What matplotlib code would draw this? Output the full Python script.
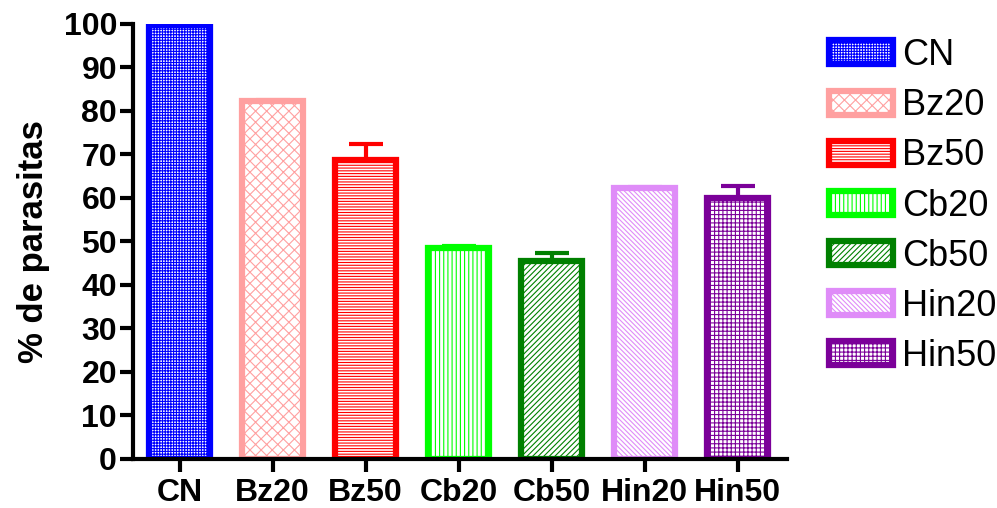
import matplotlib
matplotlib.use("Agg")
import matplotlib.pyplot as plt
import numpy as np

plt.rcParams['font.family'] = ['Liberation Sans', 'DejaVu Sans']
plt.rcParams['hatch.linewidth'] = 0.8

grupos = ['CN', 'Bz20', 'Bz50', 'Cb20', 'Cb50', 'Hin20', 'Hin50']
media = [99.8, 82.3, 68.7, 48.5, 45.5, 62.3, 60.0]
erro = [0.2, 0.3, 3.7, 0.4, 1.9, 0.3, 2.8]   # so o lado de cima
cores = ['#0000FF', '#FFA0A0', '#FF0000', '#00FF00', '#008000', '#DF8CF8', '#7B0099']
hachuras = ['++++++', 'xxx', '------', '||||', '//////', '\\\\\\\\\\\\\\', '++++']

fig = plt.figure(figsize=(9.97, 5.08), dpi=100)
ax = fig.add_axes([0.1334, 0.0965, 0.656, 0.8563])

x = np.arange(len(grupos))
for i in range(len(grupos)):
    ax.errorbar(x[i], media[i], yerr=[[0], [erro[i]]], fmt='none', ecolor=cores[i],
                elinewidth=3, capsize=12, capthick=3, zorder=1)
    ax.bar(x[i], media[i], width=0.65, color='white', edgecolor=cores[i],
           linewidth=4.5, hatch=hachuras[i], label=grupos[i], zorder=2)

ax.set_xlim(-0.5, 6.53)
ax.set_ylim(0, 100)
ax.set_yticks(np.arange(0, 101, 10))
ax.set_xticks(x)
ax.set_xticklabels(grupos)
ax.set_ylabel('% de parasitas', fontsize=25, fontweight='bold', labelpad=10)

for s in ['top', 'right']:
    ax.spines[s].set_visible(False)
for s in ['left', 'bottom']:
    ax.spines[s].set_linewidth(3)
ax.tick_params(axis='both', width=3, length=9.5, labelsize=23, pad=2)
ax.tick_params(axis='x', pad=4)
for lab in ax.get_xticklabels() + ax.get_yticklabels():
    lab.set_fontweight('bold')

fig.legend(loc='upper left', bbox_to_anchor=(0.831, 0.925), frameon=False,
           fontsize=26, handlelength=1.78, handleheight=0.64, labelspacing=0.42,
           handletextpad=0.25, borderaxespad=0, borderpad=0)

plt.savefig('out.png', dpi=100)
